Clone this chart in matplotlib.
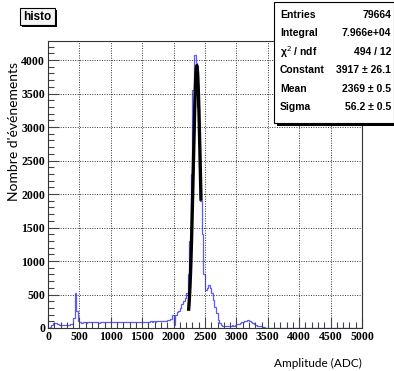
import numpy as np
import matplotlib
matplotlib.use("Agg")
import matplotlib.pyplot as plt
from matplotlib.ticker import MultipleLocator
from matplotlib.patches import Rectangle

# histogram: 25 ADC wide bins from 0 to 3600, zero above
bin_width = 25
counts = [
    0, 10, 40, 70, 80, 70, 55, 50, 45, 40, 45, 45, 50, 50, 55, 60,          # 0-375
    150, 520, 250, 100, 85, 80, 90, 85, 80, 90, 85, 88, 92, 84, 86, 90,      # 400-775
    82, 88, 95, 86, 84, 90, 92, 85, 88, 94, 86, 90, 85, 88, 92, 86,          # 800-1175
    90, 85, 88, 95, 90, 86, 92, 88, 90, 94, 86, 92, 95, 90, 88, 96,          # 1200-1575
    92, 98, 94, 100, 96, 102, 105, 100, 108, 104, 110, 106, 112, 115, 130, 190,  # 1600-1975
    40, 200, 240, 260, 300, 360, 400, 450, 520, 800, 1300, 2300, 3550, 4080, 3950, 3300,  # 2000-2375
    2400, 1900, 1400, 800, 570, 600, 640, 600, 520, 420, 320, 220, 120, 70, 45, 35,  # 2400-2775
    30, 28, 30, 32, 35, 40, 35, 45, 55, 65, 75, 85, 95, 105, 110, 112,      # 2800-3175
    108, 95, 80, 60, 45, 35, 30, 25, 15, 10, 6, 4, 2, 1, 0, 0,              # 3200-3575
]
x_max = 5000

# gaussian fit from the stats box
fit_const = 3917
fit_mean = 2369
fit_sigma = 56.2
fit_lo, fit_hi = 2240, 2436

stat_names = ["Entries", "Integral", "\u03c7$^2$ / ndf", "Constant", "Mean", "Sigma"]
stat_values = ["79664", "7.966e+04", "494 / 12", "3917 \u00b1 26.1", "2369 \u00b1 0.5", "56.2 \u00b1 0.5"]

W, H = 394, 371
fig = plt.figure(figsize=(W / 100, H / 100), dpi=100)
ax = fig.add_axes([48 / W, 43 / H, (362 - 48) / W, 287 / H])

n_bins = x_max // bin_width
full = np.zeros(n_bins)
full[:len(counts)] = counts
edges = np.arange(n_bins + 1) * bin_width
ax.stairs(full, edges, color="#5a5aff", lw=0.9)

xf = np.linspace(fit_lo, fit_hi, 200)
yf = fit_const * np.exp(-0.5 * ((xf - fit_mean) / fit_sigma) ** 2)
ax.plot(xf, yf, color="black", lw=2.4)

ax.set_xlim(0, x_max)
ax.set_ylim(0, 4284)
ax.xaxis.set_major_locator(MultipleLocator(500))
ax.xaxis.set_minor_locator(MultipleLocator(100))
ax.yaxis.set_major_locator(MultipleLocator(500))
ax.yaxis.set_minor_locator(MultipleLocator(100))
ax.tick_params(which="both", direction="in", top=False, right=False, width=0.8,
               color="#444444", pad=2)
ax.tick_params(which="major", length=8)
ax.tick_params(which="minor", length=4)
for lab in ax.get_xticklabels() + ax.get_yticklabels():
    lab.set_fontfamily("Liberation Serif")
    lab.set_fontweight("bold")
    lab.set_fontsize(8.5)
ax.grid(True, which="major", ls=(0, (1, 1.5)), color="#333333", lw=0.7)
for s in ax.spines.values():
    s.set_linewidth(0.8)
    s.set_color("#333333")

fig.text(14 / W, 1 - 131 / H, "Nombre d'\u00e9v\u00e9nements", rotation=90,
         ha="center", va="center", family="Lato", fontsize=10)
fig.text(362 / W, 1 - 363 / H, "Amplitude (ADC)", ha="right", va="center",
         family="Lato", fontsize=8.5)

# title box
fig.patches.append(Rectangle((22 / W, 1 - 27 / H), 35 / W, 17 / H, transform=fig.transFigure,
                             facecolor="black", edgecolor="none"))
fig.patches.append(Rectangle((20 / W, 1 - 25 / H), 35 / W, 17 / H, transform=fig.transFigure,
                             facecolor="#f4f4f4", edgecolor="black", lw=0.8))
fig.text(37.5 / W, 1 - 16.5 / H, "histo", ha="center", va="center",
         family="Liberation Sans", fontweight="bold", fontsize=8.5)

# stats box
fig.patches.append(Rectangle((277 / W, 1 - 126 / H), 120 / W, 121 / H, transform=fig.transFigure,
                             facecolor="black", edgecolor="none"))
fig.patches.append(Rectangle((274 / W, 1 - 123 / H), 120 / W, 121 / H, transform=fig.transFigure,
                             facecolor="white", edgecolor="black", lw=0.8))
for i, (name, val) in enumerate(zip(stat_names, stat_values)):
    yy = 1 - (15 + i * 18.4) / H
    fig.text(280 / W, yy, name, ha="left", va="center",
             family="Liberation Sans", fontweight="bold", fontsize=7.5)
    fig.text(391 / W, yy, val, ha="right", va="center",
             family="Liberation Sans", fontweight="bold", fontsize=7.5)

fig.savefig("out.png", dpi=100)
